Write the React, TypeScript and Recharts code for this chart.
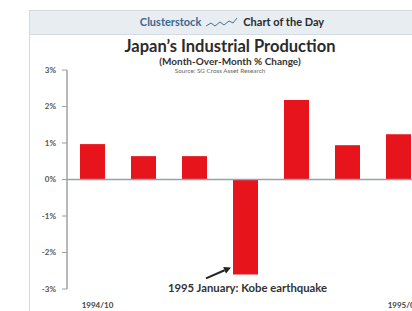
import { BarChart, Bar, XAxis, YAxis, ReferenceLine, LabelList } from 'recharts';

// Monthly % change of Japan's industrial production
const months = ['1994/10', '1994/11', '1994/12', '1995/01', '1995/02', '1995/03', '1995/04'];
const changes = [0.97, 0.64, 0.64, -2.6, 2.18, 0.94, 1.24];
const yTicks = [-3, -2, -1, 0, 1, 2, 3];
const xTickLabels = ['1994/10', '1995/04'];
const quakeMonth = '1995/01';

const data = months.map((m, i) => ({ month: m, change: changes[i] }));

const FONT = 'Lato, "Open Sans", sans-serif';

// arrow + note under the earthquake bar
const QuakeNote = (props: any) => {
  const { x, y, width, height, index } = props;
  if (months[index] !== quakeMonth) return null;
  const bottom = Math.max(y, y + height);
  const tip = { x: x - 2, y: bottom - 7 };
  const tail = { x: x - 27, y: bottom + 4 };
  const dx = tip.x - tail.x;
  const dy = tip.y - tail.y;
  const len = Math.sqrt(dx * dx + dy * dy);
  const ux = dx / len;
  const uy = dy / len;
  const bx = tip.x - ux * 7;
  const by = tip.y - uy * 7;
  const head = `${tip.x},${tip.y} ${bx - uy * 3.5},${by + ux * 3.5} ${bx + uy * 3.5},${by - ux * 3.5}`;
  return (
    <g>
      <line x1={tail.x} y1={tail.y} x2={bx} y2={by} stroke="#222" strokeWidth={2} />
      <polygon points={head} fill="#222" />
      <text
        x={x + width / 2 + 2}
        y={bottom + 18}
        textAnchor="middle"
        fontSize={11.3}
        fontWeight="bold"
        fill="#333"
        fontFamily={FONT}
      >
        1995 January: Kobe earthquake
      </text>
    </g>
  );
};

export default function App() {
  return (
    <div
      style={{
        position: 'absolute',
        left: 0,
        top: 0,
        width: 412,
        height: 311,
        overflow: 'hidden',
        background: '#fff',
        fontFamily: FONT,
      }}
    >
      {/* frame */}
      <div
        style={{
          position: 'absolute',
          left: 29,
          top: 10,
          width: 400,
          height: 320,
          borderLeft: '1px solid #d8d8d8',
          borderTop: '1px solid #d8d8d8',
        }}
      />
      {/* header band */}
      <div
        style={{
          position: 'absolute',
          left: 30,
          top: 11,
          width: 382,
          height: 23,
          background: '#e8edf2',
          borderBottom: '1px solid #d4dbe2',
        }}
      />
      <div
        style={{
          position: 'absolute',
          left: 32,
          top: 15,
          width: 400,
          textAlign: 'center',
          fontSize: 11,
          fontWeight: 'bold',
          lineHeight: '14px',
          whiteSpace: 'nowrap',
        }}
      >
        <span style={{ color: '#3d6690' }}>Clusterstock</span>
        <svg width={34} height={12} style={{ margin: '0 4px', verticalAlign: 'middle' }}>
          <polyline
            points="1,9 6,6 10,9 15,5 19,8 24,4 28,6 32,1"
            fill="none"
            stroke="#4a6f96"
            strokeWidth={1}
          />
        </svg>
        <span style={{ color: '#2a2a2a' }}>Chart of the Day</span>
      </div>
      {/* titles */}
      <div
        style={{
          position: 'absolute',
          left: 30,
          top: 37,
          width: 400,
          textAlign: 'center',
          fontSize: 16.5,
          fontWeight: 'bold',
          color: '#2b2b2b',
          lineHeight: '19px',
          whiteSpace: 'nowrap',
        }}
      >
        Japan’s Industrial Production
      </div>
      <div
        style={{
          position: 'absolute',
          left: 30,
          top: 56,
          width: 400,
          textAlign: 'center',
          fontSize: 10,
          fontWeight: 'bold',
          color: '#333',
          lineHeight: '11px',
          whiteSpace: 'nowrap',
        }}
      >
        (Month-Over-Month % Change)
      </div>
      <div
        style={{
          position: 'absolute',
          left: 20,
          top: 67,
          width: 400,
          textAlign: 'center',
          fontSize: 6.3,
          color: '#666',
          lineHeight: '7px',
          whiteSpace: 'nowrap',
        }}
      >
        Source: SG Cross Asset Research
      </div>

      <div style={{ position: 'absolute', left: 0, top: 0 }}>
        <BarChart
          width={430}
          height={311}
          data={data}
          margin={{ top: 70, right: 6, left: 29, bottom: 0 }}
        >
          <XAxis
            dataKey="month"
            interval={0}
            height={22}
            axisLine={false}
            tickLine={false}
            tickFormatter={(v) => (xTickLabels.includes(v) ? v : '')}
            tick={{ fontSize: 8, fontWeight: 'bold', fill: '#444', fontFamily: FONT, dx: 5, dy: 5 }}
          />
          <YAxis
            type="number"
            domain={[-3, 3]}
            ticks={yTicks}
            width={38}
            tickFormatter={(v) => `${v}%`}
            axisLine={{ stroke: '#a0a0a0', strokeWidth: 1.5 }}
            tickLine={{ stroke: '#a0a0a0' }}
            tickSize={5}
            tickMargin={6}
            tick={{ fontSize: 8, fontWeight: 'bold', fill: '#555', fontFamily: FONT }}
          />
          <ReferenceLine y={0} stroke="#8fa3b5" strokeWidth={1.5} />
          <Bar dataKey="change" fill="#e8141c" barSize={25} isAnimationActive={false}>
            <LabelList dataKey="change" content={QuakeNote} />
          </Bar>
        </BarChart>
      </div>
    </div>
  );
}
